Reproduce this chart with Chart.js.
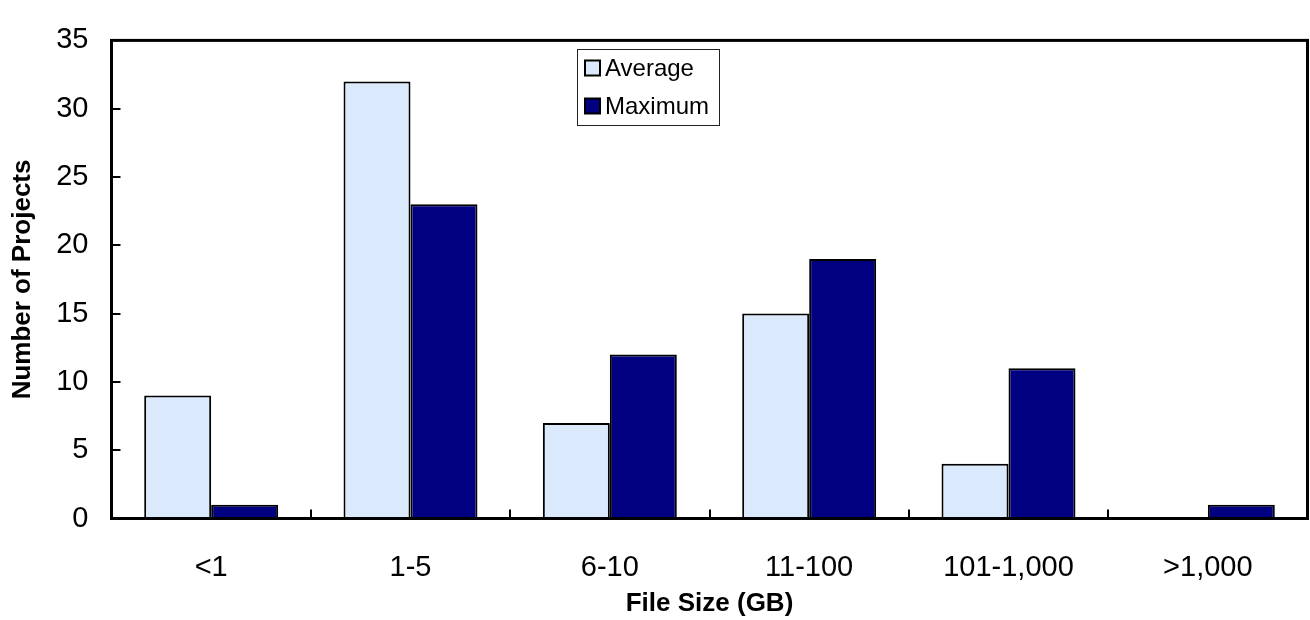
<!DOCTYPE html>
<html>
<head>
<meta charset="utf-8">
<title>Number of Projects by File Size</title>
<script src="https://cdn.jsdelivr.net/npm/chart.js@4"></script>
<style>
  html, body { margin: 0; padding: 0; background: #ffffff; }
  #wrap { width: 1310px; height: 620px; }
</style>
</head>
<body>
<div id="wrap"><canvas id="chart" width="1310" height="620"></canvas></div>
<script>
// File size buckets (GB) and project counts
const categories = ['<1', '1-5', '6-10', '11-100', '101-1,000', '>1,000'];
const averageCounts = [9, 32, 7, 15, 4, 0];
const maximumCounts = [1, 23, 12, 19, 11, 1];
const yTicks = [0, 5, 10, 15, 20, 25, 30, 35];

const FONT = '"Liberation Sans", Arial, Helvetica, sans-serif';

// Plot frame, inward tick marks and the boxed legend
const framePlugin = {
  id: 'frame',
  afterDatasetsDraw(chart) {
    const { ctx, chartArea: a, scales } = chart;
    ctx.save();
    ctx.strokeStyle = '#000';
    // inward y ticks
    ctx.lineWidth = 2;
    yTicks.forEach(v => {
      if (v === yTicks[0] || v === yTicks[yTicks.length - 1]) return;
      const y = Math.round(scales.y.getPixelForValue(v));
      ctx.beginPath();
      ctx.moveTo(a.left, y);
      ctx.lineTo(a.left + 9, y);
      ctx.stroke();
    });
    // inward x ticks at category boundaries
    const n = categories.length;
    const step = (a.right - a.left) / n;
    for (let i = 1; i < n; i++) {
      const x = Math.round(a.left + i * step);
      ctx.beginPath();
      ctx.moveTo(x, a.bottom);
      ctx.lineTo(x, a.bottom - 9);
      ctx.stroke();
    }
    // frame
    ctx.lineWidth = 3;
    ctx.strokeRect(a.left, a.top, a.right - a.left, a.bottom - a.top);

    // legend box
    const bx = 577.5, by = 49.5, bw = 142, bh = 76;
    ctx.fillStyle = '#fff';
    ctx.fillRect(bx, by, bw, bh);
    ctx.lineWidth = 1;
    ctx.strokeStyle = '#222';
    ctx.strokeRect(bx, by, bw, bh);
    ctx.font = '24px ' + FONT;
    ctx.textBaseline = 'middle';
    ctx.textAlign = 'left';
    chart.data.datasets.forEach((ds, i) => {
      const cy = 68 + i * 38;
      ctx.fillStyle = ds.backgroundColor;
      ctx.fillRect(585, cy - 7.5, 15, 15);
      ctx.lineWidth = 2;
      ctx.strokeStyle = '#000';
      ctx.strokeRect(585, cy - 7.5, 15, 15);
      ctx.fillStyle = '#000';
      ctx.fillText(ds.label, 605, cy + 1);
    });
    ctx.restore();
  }
};

new Chart(document.getElementById('chart'), {
  type: 'bar',
  data: {
    labels: categories,
    datasets: [
      {
        label: 'Average',
        data: averageCounts,
        backgroundColor: '#DAEAFC',
        borderColor: '#000',
        borderWidth: 2,
        borderSkipped: 'bottom',
        categoryPercentage: 0.672,
        barPercentage: 1.0
      },
      {
        label: 'Maximum',
        data: maximumCounts,
        backgroundColor: '#000080',
        borderColor: '#000',
        borderWidth: 2,
        borderSkipped: 'bottom',
        categoryPercentage: 0.672,
        barPercentage: 1.0
      }
    ]
  },
  options: {
    responsive: false,
    animation: false,
    devicePixelRatio: 1,
    layout: { padding: { top: 20.5, right: 2.5, bottom: 0, left: 0 } },
    plugins: {
      legend: { display: false },
      tooltip: { enabled: false }
    },
    scales: {
      x: {
        grid: { display: false, drawTicks: false },
        border: { display: false },
        ticks: {
          color: '#000',
          padding: 32,
          maxRotation: 0,
          font: { family: FONT, size: 29 }
        },
        title: {
          display: true,
          text: 'File Size (GB)',
          color: '#000',
          font: { family: FONT, size: 26, weight: 'bold' },
          padding: { top: 0, bottom: 1 }
        },
        afterFit(scale) { scale.height = 101.5; }
      },
      y: {
        min: 0,
        max: 35,
        grid: { display: false, drawTicks: false },
        border: { display: false },
        ticks: {
          stepSize: 5,
          color: '#000',
          padding: 23,
          font: { family: FONT, size: 29 }
        },
        title: {
          display: true,
          text: 'Number of Projects',
          color: '#000',
          font: { family: FONT, size: 26, weight: 'bold' },
          padding: { top: 7, bottom: 0 }
        },
        afterFit(scale) { scale.width = 111.5; }
      }
    }
  },
  plugins: [framePlugin]
});
</script>
</body>
</html>
